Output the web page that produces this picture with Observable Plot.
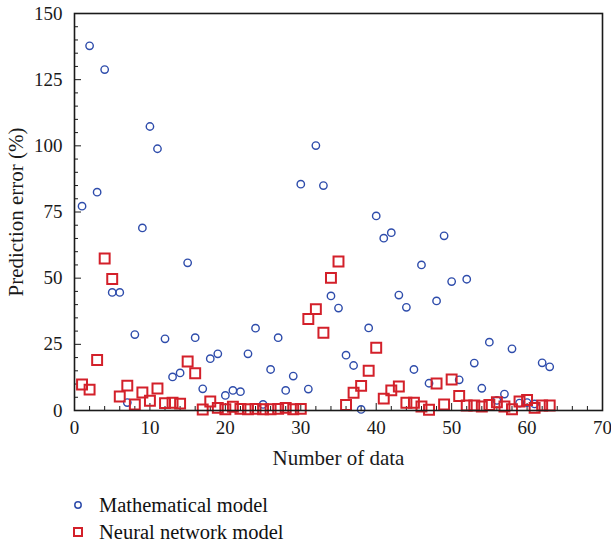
<!DOCTYPE html>
<html>
<head>
<meta charset="utf-8">
<script src="https://cdn.jsdelivr.net/npm/d3@7"></script>
<script src="https://cdn.jsdelivr.net/npm/@observablehq/plot@0.6"></script>
<style>
  body { margin: 0; background: #fff; font-family: "Liberation Serif", serif; color: #111; }
  #legend { position: relative; width: 611px; height: 66px; }
  .row { position: absolute; left: 0; height: 28px; display: flex; align-items: center; font-size: 20.5px; font-family: "Liberation Serif", serif; }
  .row svg { margin-left: 68px; margin-right: 11px; }
</style>
</head>
<body>
<div id="chart"></div>
<div id="legend"></div>
<script>
const dataIndex = [1,2,3,4,5,6,7,8,9,10,11,12,13,14,15,16,17,18,19,20,21,22,23,24,25,26,27,28,29,30,31,32,33,34,35,36,37,38,39,40,41,42,43,44,45,46,47,48,49,50,51,52,53,54,55,56,57,58,59,60,61,62,63];
const mathematicalError = [77.2,137.8,82.5,128.8,44.6,44.6,3.0,28.7,69.0,107.3,98.9,27.1,12.7,14.2,55.8,27.5,8.2,19.6,21.4,5.7,7.6,7.1,21.4,31.1,2.3,15.5,27.5,7.6,13.0,85.5,8.1,100.1,85.0,43.3,38.7,20.9,17.0,0.4,31.2,73.5,65.1,67.2,43.6,39.0,15.5,55.0,10.3,41.4,66.0,48.7,11.6,49.6,17.9,8.4,25.8,3.8,6.2,23.3,2.8,3.0,2.5,18.0,16.5];
const neuralError = [9.8,7.9,19.1,57.4,49.7,5.3,9.4,2.3,6.8,3.7,8.3,2.8,2.9,2.6,18.5,14.1,0.4,3.4,1.0,0.5,1.4,0.6,0.5,0.6,0.5,0.5,0.6,1.0,0.5,0.6,34.6,38.3,29.4,50.1,56.3,2.1,6.7,9.3,15.0,23.7,4.5,7.6,9.1,2.9,2.9,1.5,0.3,10.2,2.3,11.7,5.5,1.9,1.9,1.5,2.1,3.1,1.5,0.5,3.4,4.0,1.0,1.9,1.9];
const seriesNames = ["Mathematical model", "Neural network model"];
const xTickLabels = [0,10,20,30,40,50,60,70];
const xMinorTicks = [2,4,6,8,12,14,16,18,22,24,26,28,32,34,36,38,42,44,46,48,52,54,56,58,62,64,66,68];
const yTickLabels = [0,25,50,75,100,125,150];
const yMinorTicks = [5,10,15,20,30,35,40,45,55,60,65,70,80,85,90,95,105,110,115,120,130,135,140,145];

const mathData = dataIndex.map((n, i) => ({n, v: mathematicalError[i]}));
const neuralData = dataIndex.map((n, i) => ({n, v: neuralError[i]}));

const W = 611, H = 480, mL = 74, mR = 9, mT = 13, mB = 70;
const plotW = W - mL - mR, plotH = H - mT - mB;
const blue = "#2e4cab", red = "#d3202a", ink = "#1a1a1a";
const serif = "'Liberation Serif', serif";

const chart = Plot.plot({
  width: W, height: H,
  marginLeft: mL, marginRight: mR, marginTop: mT, marginBottom: mB,
  style: { fontFamily: serif, fontSize: "19px", color: ink, background: "#fff", overflow: "visible" },
  x: { domain: [0, 70], ticks: xTickLabels, tickSize: 0, tickPadding: 10, label: "Number of data", labelAnchor: "center", labelOffset: 54, labelArrow: "none" },
  y: { domain: [0, 150], ticks: yTickLabels, tickSize: 0, tickPadding: 12, label: "Prediction error (%)", labelAnchor: "center", labelOffset: 66, labelArrow: "none" },
  marks: [
    Plot.ruleX(xMinorTicks, { x: d => d, insetTop: plotH - 4, stroke: ink }),
    Plot.ruleX(xTickLabels, { x: d => d, insetTop: plotH - 7, stroke: ink }),
    Plot.ruleY(yMinorTicks, { y: d => d, insetRight: plotW - 4, stroke: ink }),
    Plot.ruleY(yTickLabels, { y: d => d, insetRight: plotW - 7, stroke: ink }),
    Plot.dot(mathData, { x: "n", y: "v", r: 3.7, symbol: "circle", stroke: blue, strokeWidth: 1.4, fill: "none" }),
    Plot.dot(neuralData, { x: "n", y: "v", r: 5.6, symbol: "square", stroke: red, strokeWidth: 2, fill: "none" }),
    Plot.frame({ stroke: ink, strokeWidth: 1.6 })
  ]
});
document.getElementById("chart").appendChild(chart);
chart.querySelectorAll("g[aria-label$='axis label'] text").forEach(t => t.setAttribute("font-size", "21px"));

const legend = document.getElementById("legend");
const rows = [
  { name: seriesNames[0], icon: `<svg width="20" height="20"><circle cx="10" cy="10" r="3.2" fill="none" stroke="${blue}" stroke-width="1.5"/></svg>`, top: 11 },
  { name: seriesNames[1], icon: `<svg width="20" height="20"><rect x="6" y="6" width="8" height="8" fill="none" stroke="${red}" stroke-width="2"/></svg>`, top: 38 }
];
rows.forEach(r => {
  const d = document.createElement("div");
  d.className = "row";
  d.style.top = r.top + "px";
  d.innerHTML = r.icon + `<span>${r.name}</span>`;
  legend.appendChild(d);
});
</script>
</body>
</html>
